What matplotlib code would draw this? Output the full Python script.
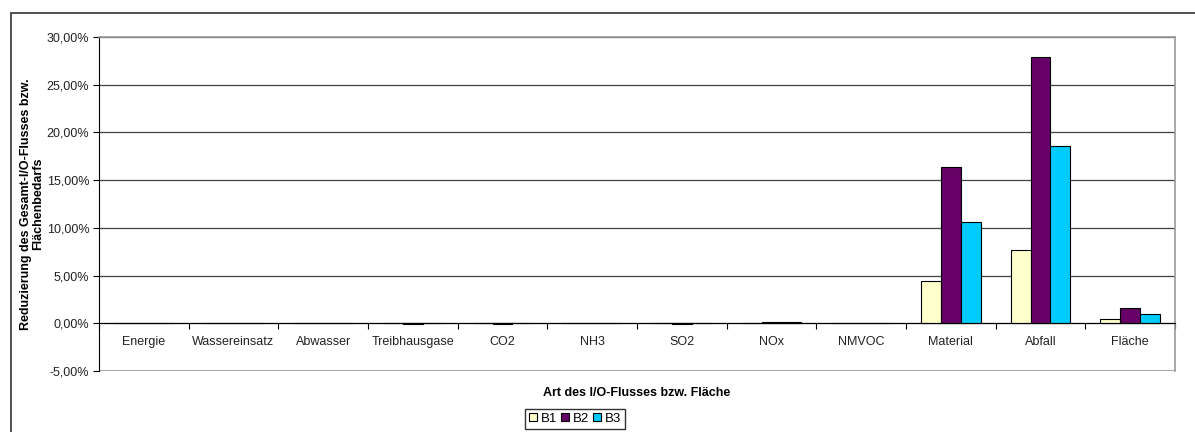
import numpy as np
import matplotlib.pyplot as plt
from matplotlib.patches import Rectangle
from matplotlib.ticker import FuncFormatter, FixedLocator

plt.rcParams['font.family'] = ['Liberation Sans', 'DejaVu Sans']

# Reduktion je I/O-Fluss in Prozent
kategorien = ['Energie', 'Wassereinsatz', 'Abwasser', 'Treibhausgase', 'CO2', 'NH3',
              'SO2', 'NOx', 'NMVOC', 'Material', 'Abfall', 'Fläche']
b1 = [0.0, 0.0, 0.0, 0.0, 0.0, 0.0, 0.0, 0.0, 0.0, 4.47, 7.72, 0.42]
b2 = [0.0, 0.0, 0.0, -0.1, -0.1, 0.0, -0.1, 0.1, 0.0, 16.35, 27.9, 1.64]
b3 = [0.0, 0.0, 0.0, 0.0, 0.0, 0.0, 0.0, 0.1, 0.0, 10.66, 18.55, 1.01]
serien = ['B1', 'B2', 'B3']
farben = ['#FFFFCC', '#660066', '#00CCFF']

fig = plt.figure(figsize=(11.95, 4.32), dpi=100)
ax = fig.add_axes([99 / 1195, 61 / 432, 1076 / 1195, 334 / 432])

# äußerer Rahmen des Diagramms
fig.patches.append(Rectangle((11 / 1195, -0.1), 1.1, 1 - 13 / 432 + 0.1,
                             transform=fig.transFigure, fill=False,
                             edgecolor='#333333', linewidth=1.2))

x = np.arange(len(kategorien))
breite = 1 / 4.5
for i, (werte, name, farbe) in enumerate(zip([b1, b2, b3], serien, farben)):
    ax.bar(x + (i - 1) * breite, werte, breite, color=farbe, edgecolor='black',
           linewidth=0.8, label=name, zorder=3)

ax.set_xlim(-0.5, len(kategorien) - 0.5)
ax.set_ylim(-5, 30)
ax.set_yticks(np.arange(-5, 31, 5))
ax.yaxis.set_major_formatter(FuncFormatter(lambda v, p: f'{v:.2f}%'.replace('.', ',')))
ax.grid(axis='y', color='#404040', linewidth=0.9, zorder=0)

# x-Achse auf der Nulllinie, Striche zwischen den Kategorien
ax.spines['bottom'].set_position(('data', 0))
ax.spines['bottom'].set_zorder(4)
ax.xaxis.set_major_locator(FixedLocator(np.arange(-0.5, len(kategorien), 1)))
ax.xaxis.set_minor_locator(FixedLocator(x))
ax.set_xticklabels([])
ax.set_xticklabels(kategorien, minor=True)
ax.tick_params(axis='x', which='major', direction='out', length=4, width=0.8)
ax.tick_params(axis='x', which='minor', length=0, pad=9, labelsize=9, labelcolor='#222222')
ax.tick_params(axis='y', direction='out', length=4, width=0.8, labelsize=9, pad=3,
               labelcolor='#222222')
ax.axhline(-5, color='#999999', linewidth=1.2, zorder=2)
for s in ['top', 'right']:
    ax.spines[s].set_color('#999999')
    ax.spines[s].set_linewidth(1.2)

ax.set_ylabel('Reduzierung des Gesamt-I/O-Flusses bzw.\nFlächenbedarfs',
              fontsize=9, fontweight='bold', labelpad=2, linespacing=1.0)
fig.text(637 / 1195, 1 - 393 / 432, 'Art des I/O-Flusses bzw. Fläche',
         ha='center', va='center', fontsize=9, fontweight='bold')

fig.legend(loc='upper center', bbox_to_anchor=(575 / 1195, 1 - 409 / 432), ncol=3,
           fontsize=9.5, frameon=True, fancybox=False, edgecolor='black',
           handlelength=0.6, handleheight=0.6, handletextpad=0.3, columnspacing=0.3,
           borderpad=0.3, borderaxespad=0)

fig.savefig('out.png', dpi=100)
